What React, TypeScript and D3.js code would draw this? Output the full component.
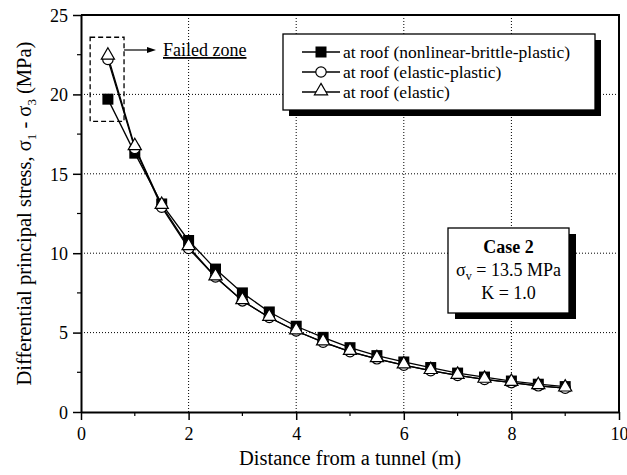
import { axisBottom, axisLeft, line, range, scaleLinear, select, symbol, symbolTriangle } from "d3";
import { FC, useEffect, useRef } from "react";

// distance from tunnel (m)
const distances = [0.5, 1, 1.5, 2, 2.5, 3, 3.5, 4, 4.5, 5, 5.5, 6, 6.5, 7, 7.5, 8, 8.5, 9];
// differential principal stress (MPa)
const brittlePlastic = [19.7, 16.3, 13.1, 10.8, 9.0, 7.5, 6.3, 5.4, 4.7, 4.05, 3.55, 3.15, 2.8, 2.45, 2.2, 1.95, 1.75, 1.6];
const elasticPlastic = [22.2, 16.6, 12.9, 10.3, 8.5, 7.0, 5.95, 5.1, 4.4, 3.8, 3.35, 2.95, 2.6, 2.3, 2.05, 1.85, 1.65, 1.5];
const elastic = [22.4, 16.7, 13.0, 10.4, 8.5, 7.0, 5.95, 5.1, 4.4, 3.8, 3.35, 2.95, 2.6, 2.3, 2.05, 1.85, 1.65, 1.5];

const seriesNames = [
  "at roof (nonlinear-brittle-plastic)",
  "at roof (elastic-plastic)",
  "at roof (elastic)"
];
const xTicks = [0, 2, 4, 6, 8, 10];
const yTicks = [0, 5, 10, 15, 20, 25];
const failedZone = { x0: 0.17, x1: 0.8, y0: 18.3, y1: 23.6 };

const WIDTH = 627;
const HEIGHT = 475;
const FONT = "'Liberation Serif', 'Times New Roman', serif";

const App: FC = () => {
  const svgRef = useRef<SVGSVGElement>(null);

  useEffect(() => {
    const svg = select(svgRef.current);
    svg.selectAll("*").remove();

    const x = scaleLinear().domain([0, 10]).range([81, 619]);
    const y = scaleLinear().domain([0, 25]).range([412, 15]);

    // grid
    const grid = svg.append("g").attr("stroke", "#000").attr("stroke-width", 1)
      .attr("stroke-dasharray", "1,2");
    grid.selectAll(".gx").data(xTicks.slice(1, -1)).join("line")
      .attr("class", "gx")
      .attr("x1", d => x(d)).attr("x2", d => x(d))
      .attr("y1", y(0)).attr("y2", y(25));
    grid.selectAll(".gy").data(yTicks.slice(1, -1)).join("line")
      .attr("class", "gy")
      .attr("x1", x(0)).attr("x2", x(10))
      .attr("y1", d => y(d)).attr("y2", d => y(d));

    // minor ticks
    const minor = svg.append("g").attr("stroke", "#000").attr("stroke-width", 1.2);
    minor.selectAll(".mx").data(range(1, 10, 2)).join("line")
      .attr("class", "mx")
      .attr("x1", d => x(d)).attr("x2", d => x(d))
      .attr("y1", y(0)).attr("y2", y(0) + 4);
    minor.selectAll(".my").data(range(2.5, 25, 5)).join("line")
      .attr("class", "my")
      .attr("x1", x(0)).attr("x2", x(0) - 4)
      .attr("y1", d => y(d)).attr("y2", d => y(d));

    // axes
    const xAxis = svg.append("g").attr("transform", `translate(0,${y(0)})`)
      .call(axisBottom(x).tickValues(xTicks).tickSize(8).tickPadding(7).tickSizeOuter(0));
    const yAxis = svg.append("g").attr("transform", `translate(${x(0)},0)`)
      .call(axisLeft(y).tickValues(yTicks).tickSize(8).tickPadding(5).tickSizeOuter(0));
    [xAxis, yAxis].forEach(a => {
      a.select(".domain").attr("stroke-width", 2);
      a.selectAll(".tick line").attr("stroke-width", 1.5);
      a.selectAll("text").attr("font-family", FONT).attr("font-size", 18).attr("fill", "#000");
    });
    yAxis.selectAll("text").attr("dy", "0.35em");

    // frame top/right
    svg.append("path")
      .attr("d", `M${x(0)},${y(25)}H${x(10)}V${y(0)}`)
      .attr("fill", "none").attr("stroke", "#000").attr("stroke-width", 2);

    // series
    const lineGen = (vals: number[]) =>
      line<number>().x((_, i) => x(distances[i])).y(d => y(d))(vals);
    [brittlePlastic, elasticPlastic, elastic].forEach(vals => {
      svg.append("path").attr("d", lineGen(vals)).attr("fill", "none")
        .attr("stroke", "#000").attr("stroke-width", 1.3);
    });

    const tri = symbol().type(symbolTriangle).size(75)();
    const drawSquare = (g: any, cx: number, cy: number) =>
      g.append("rect").attr("x", cx - 5.5).attr("y", cy - 5.5).attr("width", 11).attr("height", 11)
        .attr("fill", "#000");
    const drawCircle = (g: any, cx: number, cy: number) =>
      g.append("circle").attr("cx", cx).attr("cy", cy).attr("r", 5.2)
        .attr("fill", "#fff").attr("stroke", "#000").attr("stroke-width", 1.2);
    const drawTriangle = (g: any, cx: number, cy: number) =>
      g.append("path").attr("d", tri).attr("transform", `translate(${cx},${cy - 1})`)
        .attr("fill", "#fff").attr("stroke", "#000").attr("stroke-width", 1.2);

    const marks = svg.append("g");
    brittlePlastic.forEach((v, i) => drawSquare(marks, x(distances[i]), y(v)));
    elasticPlastic.forEach((v, i) => drawCircle(marks, x(distances[i]), y(v)));
    elastic.forEach((v, i) => drawTriangle(marks, x(distances[i]), y(v)));

    // failed zone
    svg.append("rect")
      .attr("x", x(failedZone.x0)).attr("y", y(failedZone.y1))
      .attr("width", x(failedZone.x1) - x(failedZone.x0))
      .attr("height", y(failedZone.y0) - y(failedZone.y1))
      .attr("fill", "none").attr("stroke", "#000").attr("stroke-width", 1.3)
      .attr("stroke-dasharray", "5,3");
    const ay = 50;
    svg.append("line").attr("x1", x(failedZone.x1)).attr("x2", 150)
      .attr("y1", ay).attr("y2", ay).attr("stroke", "#000").attr("stroke-width", 1.2);
    svg.append("path").attr("d", `M156,${ay}L147,${ay - 3}L147,${ay + 3}Z`).attr("fill", "#000");
    svg.append("text").attr("x", 163).attr("y", ay + 6)
      .attr("font-family", FONT).attr("font-size", 18)
      .attr("text-decoration", "underline").text("Failed zone");

    // legend
    const lg = { x: 283, y: 34, w: 312, h: 76 };
    svg.append("rect").attr("x", lg.x + 6).attr("y", lg.y + 6).attr("width", lg.w).attr("height", lg.h)
      .attr("fill", "#000");
    svg.append("rect").attr("x", lg.x).attr("y", lg.y).attr("width", lg.w).attr("height", lg.h)
      .attr("fill", "#fff").attr("stroke", "#000").attr("stroke-width", 1.3);
    const drawers = [drawSquare, drawCircle, drawTriangle];
    seriesNames.forEach((name, i) => {
      const ry = lg.y + 18 + i * 20;
      svg.append("line").attr("x1", lg.x + 19).attr("x2", lg.x + 57)
        .attr("y1", ry).attr("y2", ry).attr("stroke", "#000").attr("stroke-width", 1.3);
      drawers[i](svg, lg.x + 38, ry);
      svg.append("text").attr("x", lg.x + 60).attr("y", ry + 6)
        .attr("font-family", FONT).attr("font-size", 17.5).text(name);
    });

    // case box
    const cb = { x: 448, y: 228, w: 121, h: 85 };
    svg.append("rect").attr("x", cb.x + 7).attr("y", cb.y + 6).attr("width", cb.w).attr("height", cb.h)
      .attr("fill", "#000");
    svg.append("rect").attr("x", cb.x).attr("y", cb.y).attr("width", cb.w).attr("height", cb.h)
      .attr("fill", "#fff").attr("stroke", "#000").attr("stroke-width", 1.3);
    const cx = cb.x + cb.w / 2;
    svg.append("text").attr("x", cx).attr("y", 253).attr("text-anchor", "middle")
      .attr("font-family", FONT).attr("font-size", 18).attr("font-weight", "bold").text("Case 2");
    const t2 = svg.append("text").attr("x", cx).attr("y", 276).attr("text-anchor", "middle")
      .attr("font-family", FONT).attr("font-size", 18);
    t2.append("tspan").text("σ");
    t2.append("tspan").attr("font-size", 12).attr("dy", 4).text("v");
    t2.append("tspan").attr("dy", -4).text(" = 13.5 MPa");
    svg.append("text").attr("x", cx).attr("y", 299).attr("text-anchor", "middle")
      .attr("font-family", FONT).attr("font-size", 18).text("K = 1.0");

    // axis titles
    svg.append("text").attr("x", 350).attr("y", 465).attr("text-anchor", "middle")
      .attr("font-family", FONT).attr("font-size", 20.5).text("Distance from a tunnel (m)");
    const yt = svg.append("text").attr("transform", `translate(31,${(y(0) + y(25)) / 2}) rotate(-90)`)
      .attr("text-anchor", "middle").attr("font-family", FONT).attr("font-size", 20.5);
    yt.append("tspan").text("Differential principal stress, σ");
    yt.append("tspan").attr("font-size", 13).attr("dy", 5).text("1");
    yt.append("tspan").attr("dy", -5).text(" - σ");
    yt.append("tspan").attr("font-size", 13).attr("dy", 5).text("3");
    yt.append("tspan").attr("dy", -5).text(" (MPa)");
  }, []);

  return (
    <svg ref={svgRef} width={WIDTH} height={HEIGHT}
      style={{ position: "absolute", left: 0, top: 0, background: "#fff" }} />
  );
};

export default App;
